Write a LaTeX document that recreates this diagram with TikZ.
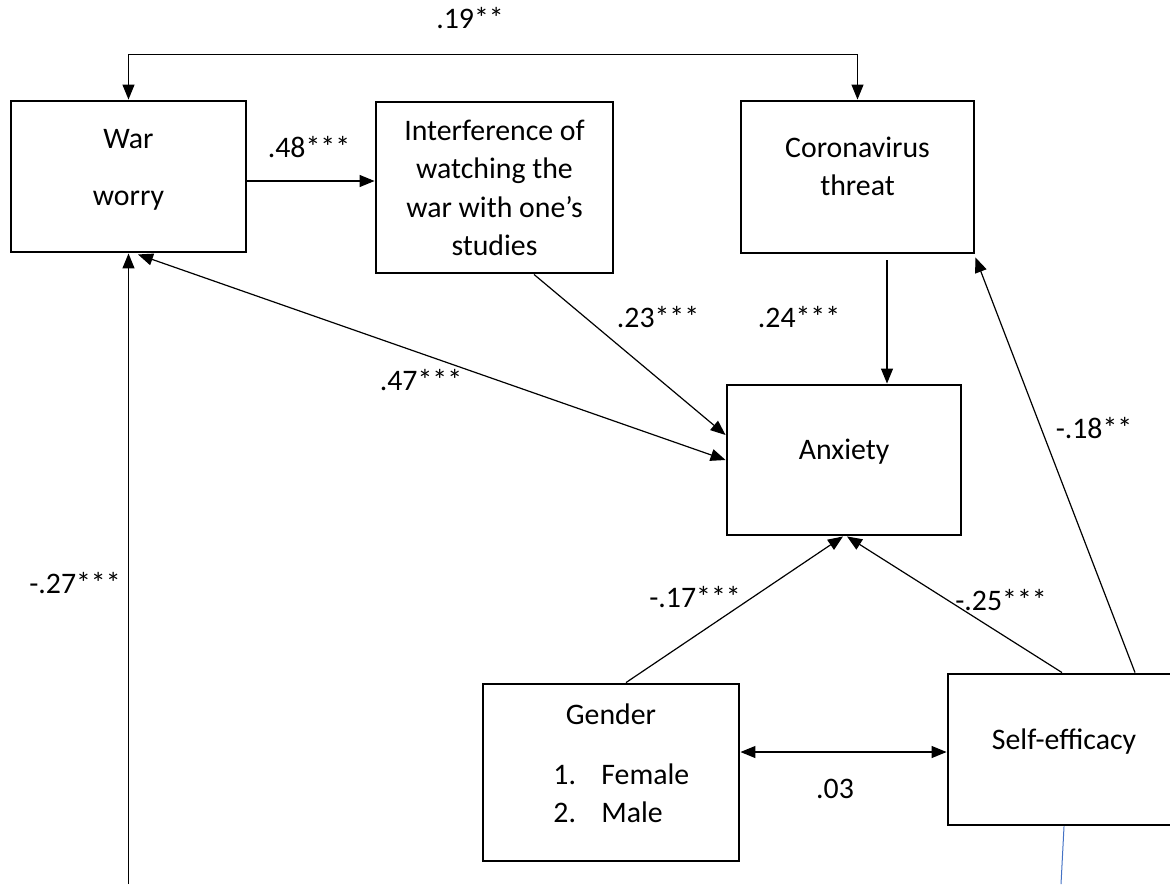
\documentclass[tikz,border=0pt]{standalone}
\usepackage{fontspec}
\setmainfont{Carlito}
\usetikzlibrary{arrows.meta,calc}
\definecolor{lineblue}{RGB}{68,114,196}
\begin{document}
\begin{tikzpicture}[x=0.5pt,y=-0.5pt,
  box/.style={draw,line width=1.45pt,rectangle,inner sep=0pt},
  txt/.style={anchor=base,inner sep=0pt,font=\fontsize{14.9}{17}\selectfont},
  txtw/.style={anchor=base west,inner sep=0pt,font=\fontsize{14.9}{17}\selectfont},
  conn/.style={line width=0.6pt,-{Triangle[length=7.5pt,width=6pt]}},
  dconn/.style={line width=0.6pt,{Triangle[length=7.5pt,width=6pt]}-{Triangle[length=7.5pt,width=6pt]}},
]
\useasboundingbox (0,0) rectangle (1170,884);

% boxes
\node[box,minimum width=117.5pt,minimum height=75.5pt] (war) at (128.5,176.5) {};
\node[box,minimum width=118.5pt,minimum height=85.5pt] (interf) at (494.5,187.5) {};
\node[box,minimum width=116.5pt,minimum height=76pt] (corona) at (857.5,177) {};
\node[box,minimum width=117pt,minimum height=75pt] (anx) at (844,460) {};
\node[box,minimum width=128pt,minimum height=88.5pt] (gender) at (611,772.5) {};
\node[box,minimum width=116pt,minimum height=75.5pt] (se) at (1064,749.5) {};

% box texts
\node[txt] (warA) at (128.5,148) {War};
\node[txt] (warB) at (128.5,205) {worry};
\node[txt] (intA) at (494.5,140) {Interference of};
\node[txt] (intB) at (494.5,178) {watching the};
\node[txt] (intC) at (494.5,217) {war with one’s};
\node[txt] (intD) at (494.5,255) {studies};
\node[txt] (corA) at (857.5,157) {Coronavirus};
\node[txt] (corB) at (857.5,195) {threat};
\node[txt] (anxA) at (844,459) {Anxiety};
\node[txt] (genA) at (611,724) {Gender};
\node[txtw] (genB1) at (553,784) {1.};
\node[txtw] (genB2) at (601,784) {Female};
\node[txtw] (genC1) at (553,822) {2.};
\node[txtw] (genC2) at (601,822) {Male};
\node[txt] (seA) at (1064,749) {Self-efficacy};

% coefficient labels
\node[txt] (l19) at (470,28) {.19**};
\node[txt] (l48) at (309,157) {.48***};
\node[txt] (l23) at (658,327) {.23***};
\node[txt] (l24) at (799,327) {.24***};
\node[txt] (l47) at (421,390) {.47***};
\node[txt] (l18) at (1094,438) {-.18**};
\node[txt] (l27) at (75,593) {-.27***};
\node[txt] (l17) at (695,607) {-.17***};
\node[txt] (l25) at (1001,610) {-.25***};
\node[txt] (l03) at (835,798) {.03};

% helper coordinates
\coordinate (w1) at ($(war.east)+(0,4.5)$);
\coordinate (c1) at ($(corona.south)+(29.5,6)$);
\coordinate (g1) at ($(gender.east)+(0,-20.5)$);
\coordinate (wbot) at (128.5,884);
\coordinate (bbot) at (1061,884);

% connectors
\draw[dconn] (war.north) -- ++(0,-45) -| (corona.north);
\draw[conn] (w1) -- (w1 -| interf.west);
\draw[conn] ($(interf.south)+(39.5,0)$) -- ($(anx.west)+(0,-25)$);
\draw[conn] (c1) -- (c1 |- anx.north);
\draw[dconn] ($(war.south)+(9.5,1)$) -- (anx.west);
\draw[conn] (wbot) -- (war.south);
\draw[conn] ($(gender.north)+(15,0)$) -- ($(anx.south)+(-1,0)$);
\draw[conn] ($(se.north)+(-2,0)$) -- ($(anx.south)+(3,0)$);
\draw[conn] ($(se.north)+(71,0)$) -- ($(corona.south east)+(0,3)$);
\draw[dconn] (g1) -- (g1 -| se.west);
\draw[lineblue,line width=0.5pt] (se.south) -- (bbot);
\end{tikzpicture}
\end{document}
